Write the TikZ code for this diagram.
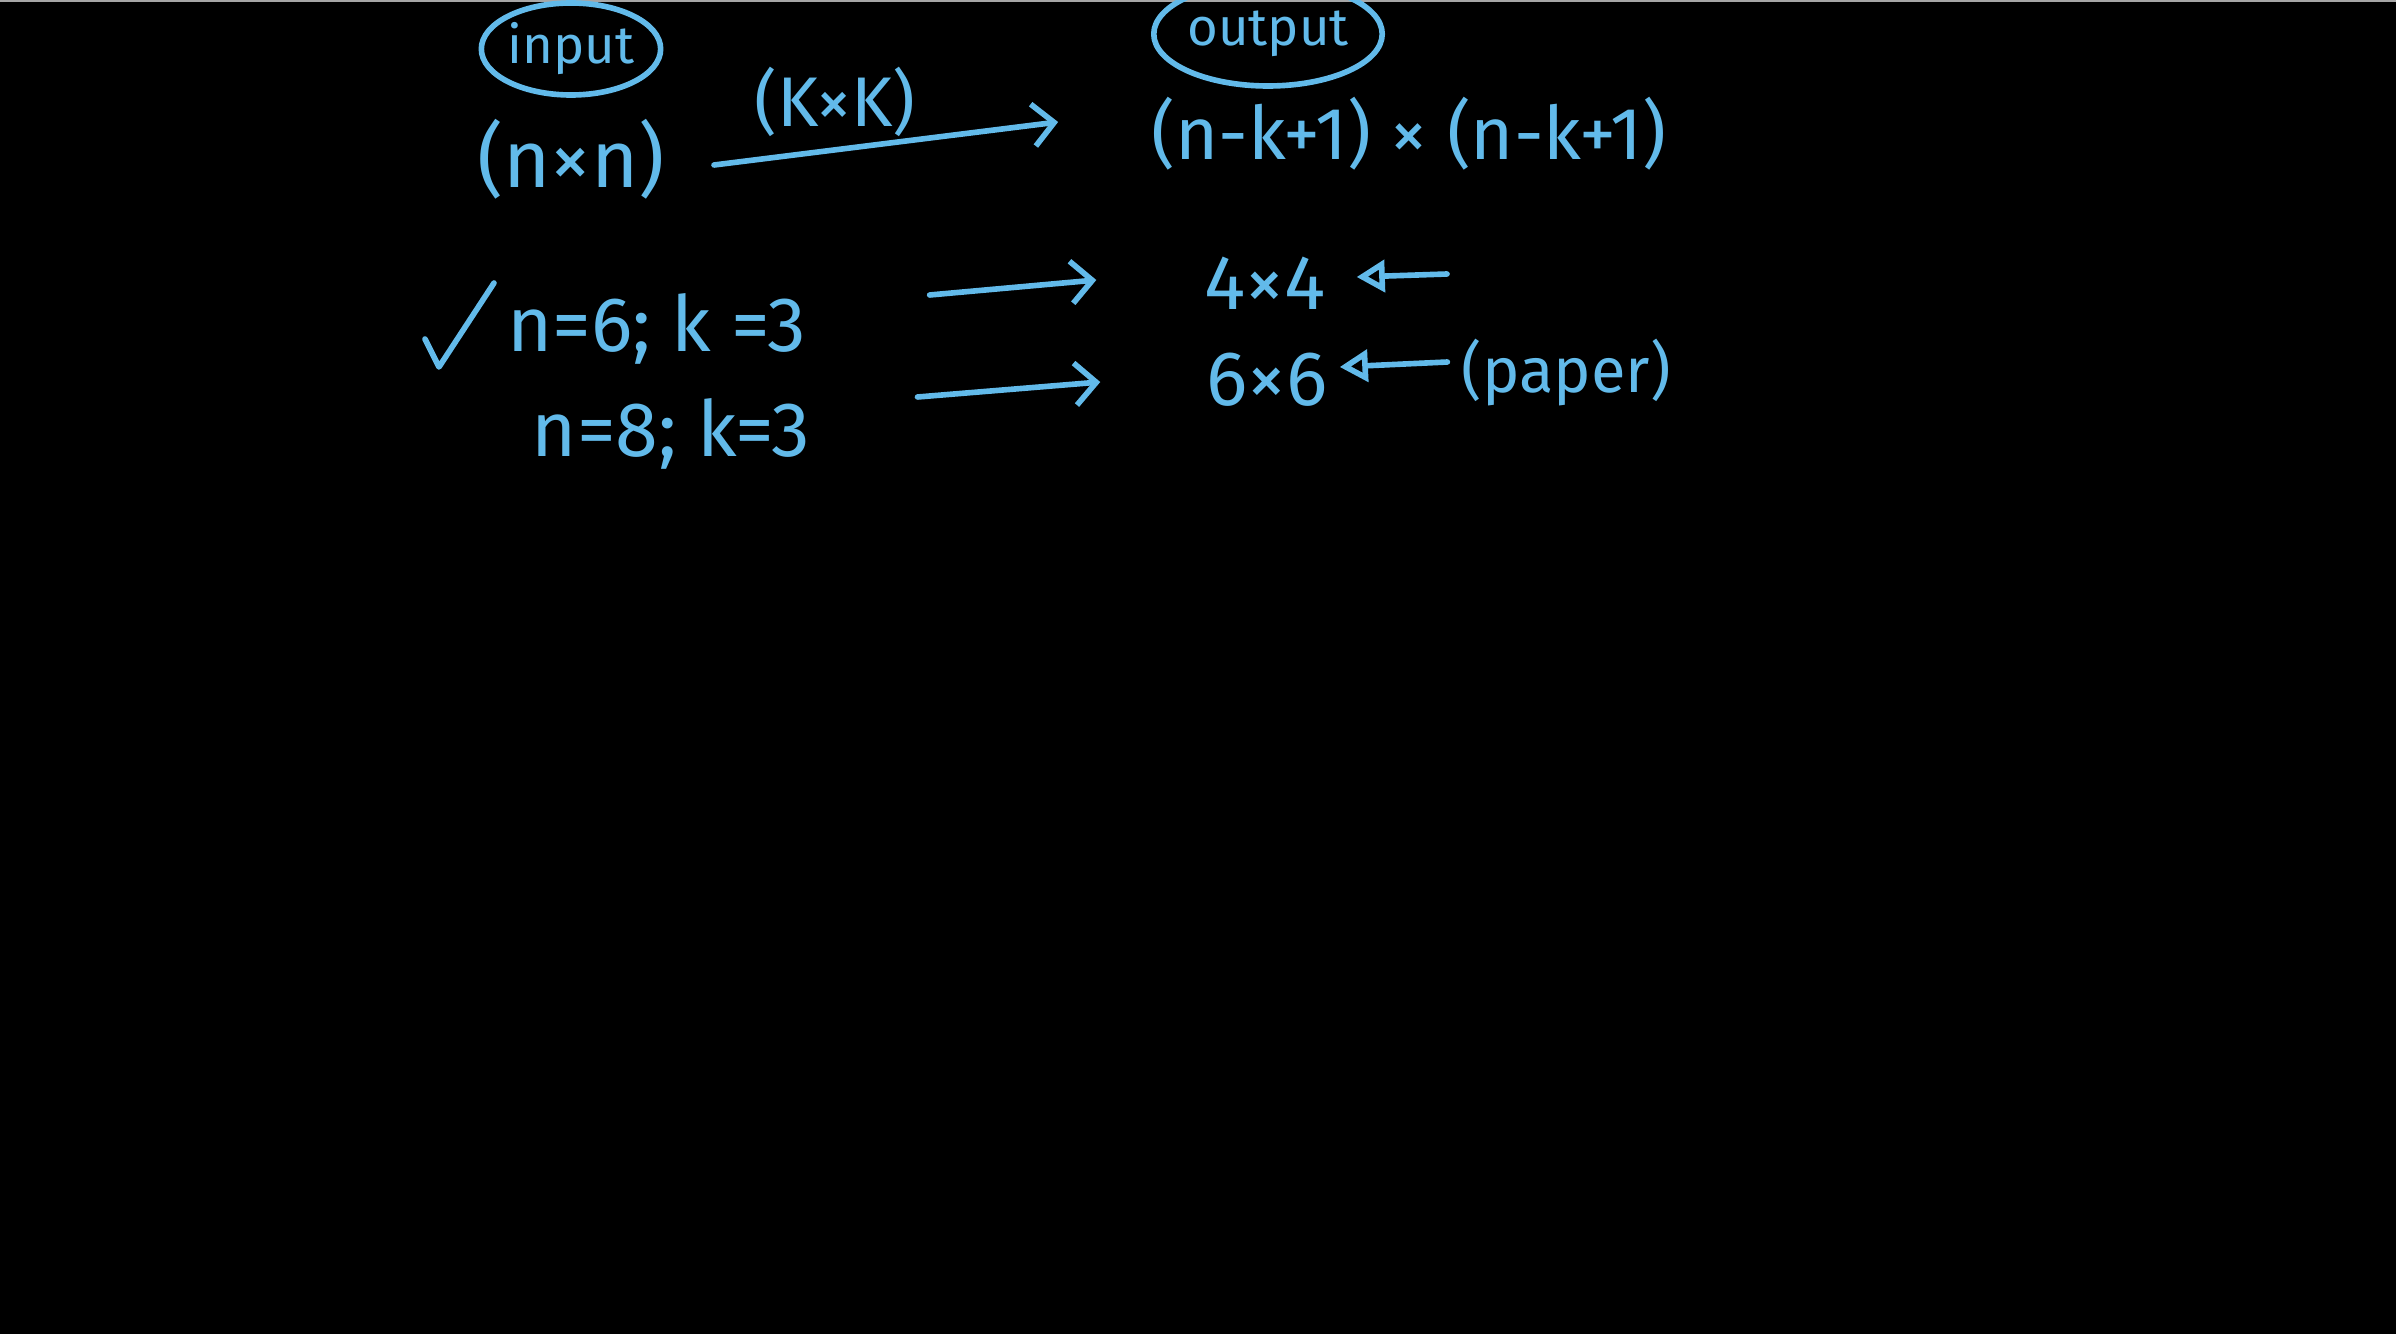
\documentclass[tikz,border=0pt]{standalone}
\usepackage{fontspec}
\setmainfont{Fira Sans}
\usetikzlibrary{arrows.meta, shapes.geometric, positioning, calc}
\definecolor{chalkblue}{RGB}{98,186,234}

\begin{document}
\begin{tikzpicture}[>=Latex,
    pen/.style={chalkblue, line width=1.6pt, line cap=round, line join=round},
    hand/.style={text=chalkblue, inner sep=1pt, font=\fontsize{22}{26}\selectfont},
    small/.style={hand, font=\fontsize{20}{24}\selectfont},
    tag/.style={pen, draw, ellipse, text=chalkblue, inner sep=0pt,
        font=\fontsize{15}{18}\selectfont},
    fwd/.style={pen, -{Straight Barb[length=6pt, width=12pt]}},
    bwd/.style={pen, -{Triangle[open, length=8pt, width=9pt]}},
]
\fill[black] (0,0) rectangle (23.96,-13.34);
\useasboundingbox (0,0) rectangle (23.96,-13.34);
\draw[gray!70, line width=0.4pt] (0,-0.01) -- (23.96,-0.01);

% ================= input -> output =================
\node[tag, minimum width=1.71cm, minimum height=0.92cm] (inp) at (5.71,-0.49) {input};
\node[tag, minimum width=2.23cm, minimum height=1.04cm] (outp) at (12.68,-0.34) {output};

\node[hand, font=\fontsize{23}{27}\selectfont] (nn) at (5.71,-1.59) {(n×n)};
\node[small] (kk) at (8.35,-1.02) {(K×K)};
\node[small, font=\fontsize{21}{25}\selectfont] (oexp) at (14.09,-1.34) {(n-k+1) × (n-k+1)};

\draw[fwd] ($(nn.east)+(0.45,-0.06)$) -- ($(oexp.west)+(-0.89,0.12)$);

% ================= examples =================
\draw[pen] (4.25,-3.39) -- (4.39,-3.67) -- (4.94,-2.83);

\node[hand] (r6) at (6.57,-3.29) {n=6; k =3};
\node[hand] (r8) at (6.71,-4.34) {n=8; k=3};
\node[hand] (o44) at (12.65,-2.83) {4×4};
\node[hand] (o66) at (12.67,-3.80) {6×6};
\node[small, font=\fontsize{18}{22}\selectfont] (pap) at (15.66,-3.73) {(paper)};
\coordinate (a44) at (14.47,-2.74);

\draw[fwd] ($(r6.east)+(1.19,0.34)$) -- ($(o44.west)+(-1.04,0.03)$);
\draw[fwd] ($(r8.east)+(1.03,0.37)$) -- ($(o66.west)+(-1.02,-0.02)$);

\draw[bwd] (a44) -- ($(o44.east)+(0.27,0.06)$);
\draw[bwd] ($(pap.west)+(-0.1,0.11)$) -- ($(o66.east)+(0.08,0.13)$);

\end{tikzpicture}
\end{document}
